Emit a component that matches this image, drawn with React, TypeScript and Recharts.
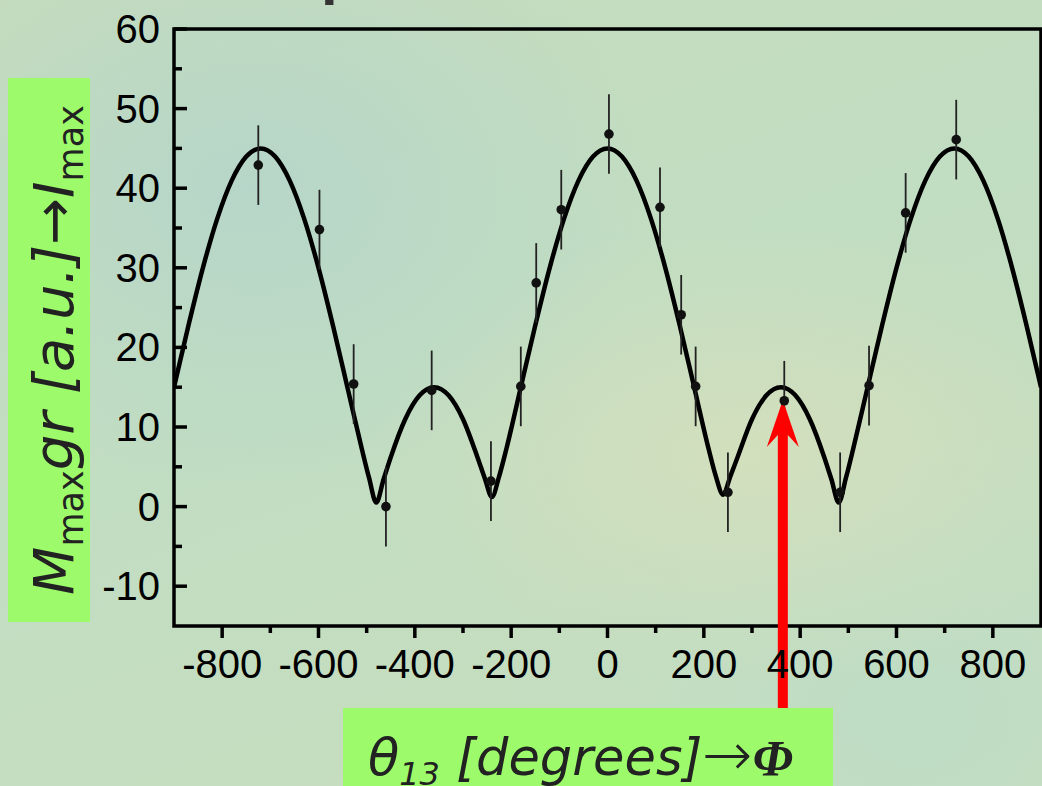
import React from 'react';
import {
  ComposedChart, Line, Scatter, ErrorBar, XAxis, YAxis, ReferenceArea, ReferenceLine,
} from 'recharts';

// fitted curve
const curveX = [
  -900, -870, -840, -810, -780, -750, -720, -690, -660, -630, -600, -570, -540, -510, -495, -480, -465, -450,
  -420, -390, -360, -330, -300, -270, -255, -240, -225, -210, -180, -150, -120, -90, -60, -30, 0,
  30, 60, 90, 120, 150, 180, 210, 225, 240, 255, 270, 300, 330, 360, 390, 420, 450, 465, 480, 495, 510,
  540, 570, 600, 630, 660, 690, 720, 750, 780, 810, 840, 870, 900,
];
const curveY = [
  15, 22.76, 30, 36.21, 40.98, 43.98, 45, 43.98, 40.98, 36.21, 30, 22.76, 15, 7.24, 3.6, 0.5, 3.4, 6.21,
  10.98, 13.98, 15, 13.98, 10.98, 6.21, 3.6, 1.2, 3.8, 7.24, 15, 22.76, 30, 36.21, 40.98, 43.98, 45,
  43.98, 40.98, 36.21, 30, 22.76, 15, 7.24, 3.8, 1.5, 3.8, 6.21, 10.98, 13.98, 15, 13.98, 10.98, 6.21, 3.4, 0.5, 3.6, 7.24,
  15, 22.76, 30, 36.21, 40.98, 43.98, 45, 43.98, 40.98, 36.21, 30, 22.76, 15,
];

// measured points
const pointX = [-725, -598, -527, -460, -365, -242, -180, -148, -96, 3, 109, 153, 183, 250, 367, 483, 543, 619, 724];
const pointY = [42.9, 34.8, 15.4, 0, 14.6, 3.2, 15.1, 28.1, 37.3, 46.8, 37.6, 24.1, 15.1, 1.8, 13.3, 1.8, 15.2, 36.9, 46.1];
const pointErr = [5, 5, 5, 5, 5, 5, 5, 5, 5, 5, 5, 5, 5, 5, 5, 5, 5, 5, 5];

const xMajorTicks = [-800, -600, -400, -200, 0, 200, 400, 600, 800];
const xMinorTicks = [-700, -500, -300, -100, 100, 300, 500, 700];
const yMajorTicks = [-10, 0, 10, 20, 30, 40, 50, 60];
const yMinorTicks = [-5, 5, 15, 25, 35, 45, 55];

// annotation arrow (data coords)
const arrowX = 364;
const arrowTipY = 13.4;
const arrowBaseY = -25.5;

const curveData = curveX.map((x, i) => ({ x, y: curveY[i] }));
const pointData = pointX.map((x, i) => ({ x, y: pointY[i], err: pointErr[i] }));

const TICK_FONT = '"Liberation Sans", Arial, sans-serif';

const XTick = (props: any) => {
  const { x, y, payload } = props;
  const v = payload.value;
  const major = xMajorTicks.includes(v);
  return (
    <g>
      <line x1={x} x2={x} y1={y} y2={y + (major ? 12 : 7)} stroke="#000" strokeWidth={3.5} />
      {major && (
        <text x={x} y={y + 52} textAnchor="middle" fontSize={40} fontFamily={TICK_FONT} fill="#000">
          {v}
        </text>
      )}
    </g>
  );
};

const YTick = (props: any) => {
  const { x, y, payload } = props;
  const v = payload.value;
  const major = yMajorTicks.includes(v);
  return (
    <g>
      <line x1={x} x2={x + (major ? 13 : 8)} y1={y} y2={y} stroke="#000" strokeWidth={3.5} />
      {major && (
        <text x={x - 14} y={y + 14} textAnchor="end" fontSize={40} fontFamily={TICK_FONT} fill="#000">
          {v}
        </text>
      )}
    </g>
  );
};

const ArrowShape = (props: any) => {
  const { x1, y1, x2, y2 } = props;
  const tx = y1 < y2 ? x1 : x2;
  const ty = Math.min(y1, y2);
  const by = Math.max(y1, y2);
  const pts = [
    [tx, ty], [tx + 16, ty + 47], [tx + 5, ty + 35], [tx + 5, by], [tx - 5, by], [tx - 5, ty + 35], [tx - 16, ty + 47],
  ].map((p) => p.join(',')).join(' ');
  return <polygon points={pts} fill="#ff0000" />;
};

const Dot = (props: any) => <circle cx={props.cx} cy={props.cy} r={4.8} fill="#111" />;

export default function App() {
  return (
    <div
      style={{
        position: 'absolute', left: 0, top: 0, width: 1042, height: 786, overflow: 'hidden',
        background:
          'radial-gradient(ellipse at 24% 24%, rgba(178,212,204,0.75) 0%, rgba(178,212,204,0) 36%),' +
          'radial-gradient(ellipse at 72% 58%, rgba(216,224,188,0.75) 0%, rgba(216,224,188,0) 36%),' +
          'radial-gradient(ellipse at 88% 92%, rgba(186,220,200,0.7) 0%, rgba(186,220,200,0) 32%),' +
          'linear-gradient(160deg, #c6dcbc 0%, #c1ddc2 45%, #c9debd 100%)',
      }}
    >
      <ComposedChart width={1042} height={786} margin={{ top: 29, right: 1, bottom: 100, left: 0 }}>
        <XAxis
          dataKey="x" type="number" domain={[-900, 900]} allowDataOverflow
          ticks={[...xMajorTicks, ...xMinorTicks].sort((a, b) => a - b)}
          interval={0} tickSize={0} tickMargin={0} tickLine={false} axisLine={false}
          height={60} tick={<XTick />}
        />
        <YAxis
          type="number" domain={[-15, 60]} allowDataOverflow
          ticks={[...yMajorTicks, ...yMinorTicks].sort((a, b) => a - b)}
          interval={0} tickSize={0} tickMargin={0} tickLine={false} axisLine={false}
          width={174} tick={<YTick />}
        />
        <ReferenceArea x1={-900} x2={900} y1={-15} y2={60} fill="none" stroke="#000" strokeWidth={3.5} fillOpacity={0} />
        <Line data={curveData} dataKey="y" type="monotone" stroke="#000" strokeWidth={4.5} dot={false} isAnimationActive={false} />
        <Scatter data={pointData} dataKey="y" shape={<Dot />} isAnimationActive={false}>
          <ErrorBar dataKey="err" direction="y" width={0} stroke="#222" strokeWidth={1.8} />
        </Scatter>
        <ReferenceLine
          segment={[{ x: arrowX, y: arrowBaseY }, { x: arrowX, y: arrowTipY }]}
          ifOverflow="visible" shape={<ArrowShape />}
        />
      </ComposedChart>
      <svg width={1042} height={786} style={{ position: 'absolute', left: 0, top: 0, pointerEvents: 'none' }}>
        <text x={321} y={-7} fontSize={60} fontWeight="bold" fontFamily={TICK_FONT} fill="#333">p</text>
        <rect x={8} y={78} width={82} height={544} fill="#9dfb6b" />
        <text
          transform="translate(73,350) rotate(-90)" textAnchor="middle"
          fontFamily='"DejaVu Sans", Verdana, sans-serif' fontSize={56} fill="#222"
        >
          <tspan fontStyle="italic">M</tspan>
          <tspan fontSize={35} dy={10}>max</tspan>
          <tspan fontStyle="italic" dy={-10}>gr [a.u.]</tspan>
          <tspan>→</tspan>
          <tspan fontStyle="italic">I</tspan>
          <tspan fontSize={35} dy={10}>max</tspan>
        </text>
        <rect x={343} y={708} width={490} height={90} fill="#9dfb6b" />
        <text x={368} y={775} fontFamily='"DejaVu Sans", Verdana, sans-serif' fontSize={51} fill="#222" fontStyle="italic">
          <tspan>θ</tspan>
          <tspan fontSize={32} dy={10}>13</tspan>
          <tspan dy={-10}> [degrees]</tspan>
          <tspan fontStyle="normal" fontSize={60} fontWeight="300">→</tspan>
          <tspan fontFamily='"Liberation Serif", serif' fontWeight="bold" fontStyle="italic">Φ</tspan>
        </text>
      </svg>
    </div>
  );
}
